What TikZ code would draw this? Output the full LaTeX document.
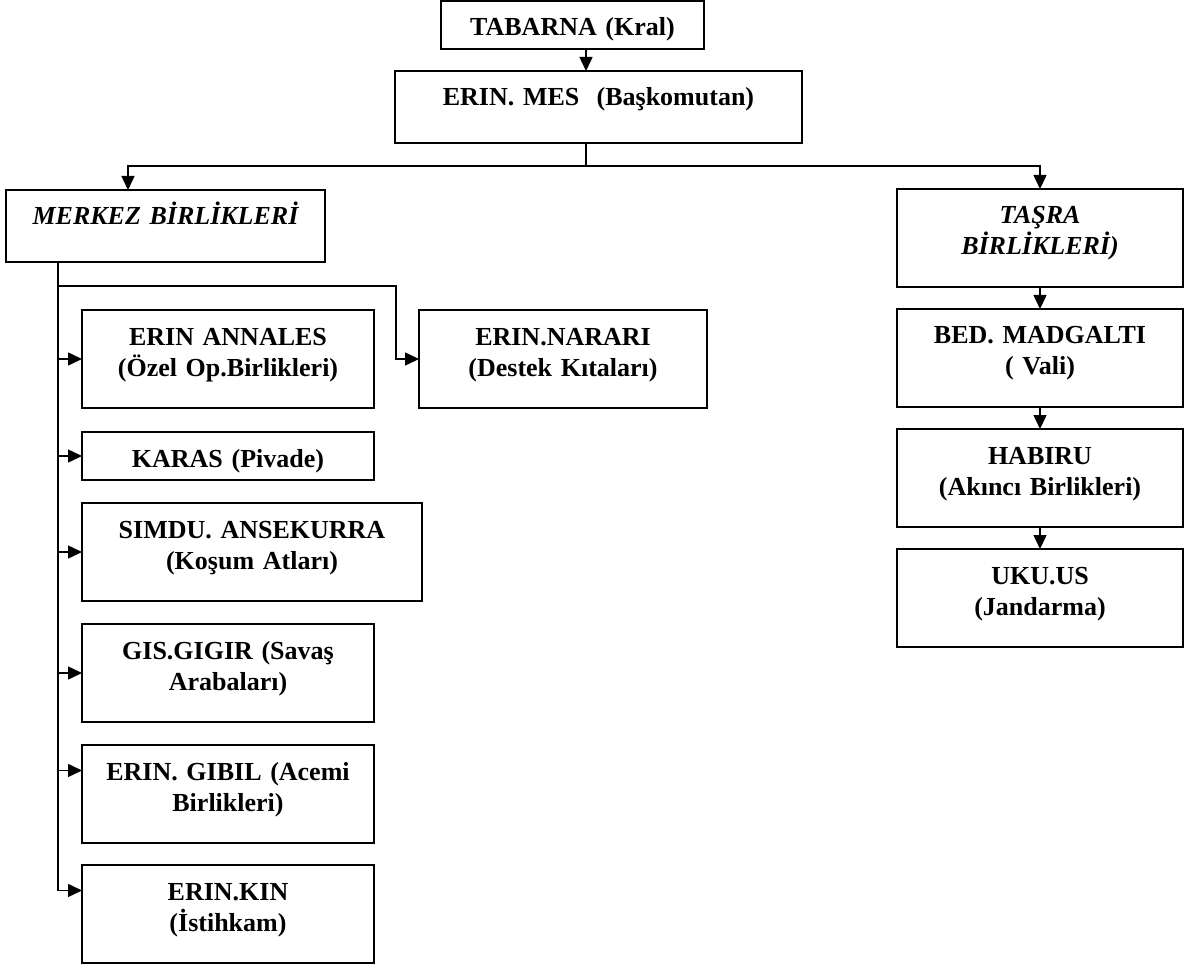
\documentclass[tikz,border=0pt]{standalone}
\usepackage{fontspec}
\setmainfont{Liberation Serif}
\usetikzlibrary{arrows.meta,positioning,calc}

\tikzset{
	unit/.style={draw, line width=1.5pt, anchor=north west, inner sep=0pt, outer sep=0pt, align=center,
		font=\bfseries\fontsize{26}{31}\selectfont, text height=35pt, text depth=63pt},
	flat/.style={text depth=37pt},
	slim/.style={text depth=13pt},
	link/.style={line width=1.5pt},
	arr/.style={line width=1.5pt, -{Triangle[length=14pt,width=13pt]}}
}

\begin{document}
\begin{tikzpicture}[x=1pt, y=-1pt]
	\useasboundingbox (0,0) rectangle (1188,965);

	% Top
	\node[unit, slim, text width=263pt] (tabarna) at (441,1) {TABARNA (Kral)};
	\node[unit, flat, text width=407pt] (mes) at (395,71) {ERIN. MES~ (Başkomutan)};

	% Merkez
	\node[unit, flat, text width=319pt] (merkez) at (6,190) {\itshape MERKEZ BİRLİKLERİ};
	\node[unit, text width=292pt] (annales) at (82,310) {ERIN ANNALES\\(Özel Op.Birlikleri)};
	\node[unit, text width=288pt] (narari) at (419,310) {ERIN.NARARI\\(Destek Kıtaları)};
	\node[unit, slim, text width=292pt, below=24pt of annales.south west, anchor=north west] (karas) {KARAS (Pivade)};
	\node[unit, text width=340pt, below=23pt of karas.south west, anchor=north west] (simdu) {SIMDU. ANSEKURRA\\(Koşum Atları)};
	\node[unit, text width=292pt, below=23pt of simdu.south west, anchor=north west] (gis) {GIS.GIGIR (Savaş\\Arabaları)};
	\node[unit, text width=292pt, below=23pt of gis.south west, anchor=north west] (gibil) {ERIN. GIBIL (Acemi\\Birlikleri)};
	\node[unit, text width=292pt, below=22pt of gibil.south west, anchor=north west] (kin) {ERIN.KIN\\(İstihkam)};

	% Tasra
	\node[unit, text width=286pt] (tasra) at (897,189) {\itshape TAŞRA\\\itshape BİRLİKLERİ)};
	\node[unit, text width=286pt, below=22pt of tasra] (bed) {BED. MADGALTI\\( Vali)};
	\node[unit, text width=286pt, below=22pt of bed] (habiru) {HABIRU\\(Akıncı Birlikleri)};
	\node[unit, text width=286pt, below=22pt of habiru] (uku) {UKU.US\\(Jandarma)};

	% Links
	\coordinate (spine) at (586,0);
	\coordinate (mtop) at ([xshift=122pt]merkez.north west);
	\coordinate (trunk) at ([xshift=52pt]merkez.south west);
	\coordinate (gibilarr) at ($(gibil.north west)!0.26!(gibil.south west)$);
	\coordinate (kinarr) at ($(kin.north west)!0.26!(kin.south west)$);

	\draw[arr] (tabarna.south -| spine) -- (mes.north -| spine);
	\draw[link] (mes.south -| spine) -- ++(0,23) coordinate (split);
	\draw[arr] (split) -| (mtop);
	\draw[arr] (split) -| (tasra.north);

	\draw[arr] (trunk) |- (kinarr);
	\foreach \b in {annales,karas,simdu,gis}
		\draw[arr] (trunk |- \b.west) -- (\b.west);
	\draw[arr] (trunk |- gibilarr) -- (gibilarr);
	\draw[arr] ($(trunk)+(0,24)$) -| ([xshift=-23pt]narari.west) -- (narari.west);

	\draw[arr] (tasra) -- (bed);
	\draw[arr] (bed) -- (habiru);
	\draw[arr] (habiru) -- (uku);
\end{tikzpicture}
\end{document}
